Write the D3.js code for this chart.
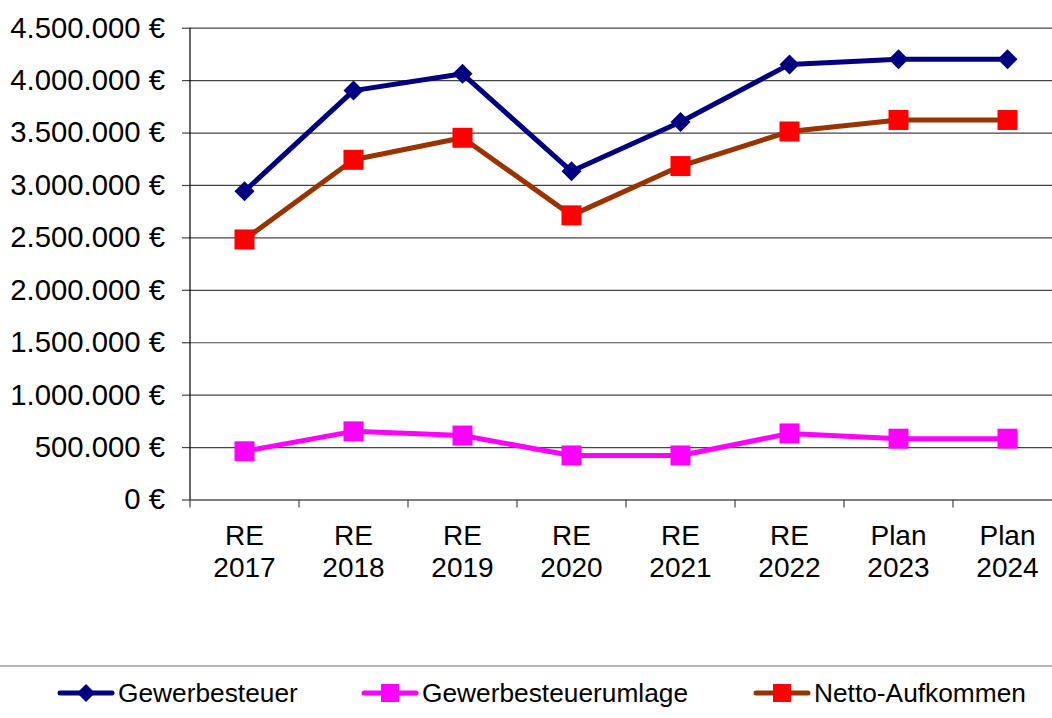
<!DOCTYPE html>
<html>
<head>
<meta charset="utf-8">
<script src="https://cdn.jsdelivr.net/npm/d3@7"></script>
<style>
  body { margin: 0; background: #fff; }
  svg { display: block; font-family: Arial, "Liberation Sans", sans-serif; }
</style>
</head>
<body>
<svg id="chart" width="1052" height="718"></svg>
<script>
// data
var categories = ["RE 2017", "RE 2018", "RE 2019", "RE 2020", "RE 2021", "RE 2022", "Plan 2023", "Plan 2024"];
var gewerbesteuer = [2940000, 3900000, 4060000, 3130000, 3600000, 4150000, 4200000, 4200000];
var umlage = [460000, 650000, 610000, 420000, 420000, 630000, 580000, 580000];
var netto = [2480000, 3240000, 3450000, 2710000, 3180000, 3510000, 3620000, 3620000];
var yTicks = [0, 500000, 1000000, 1500000, 2000000, 2500000, 3000000, 3500000, 4000000, 4500000];

var series = [
  {name: "Gewerbesteuer", values: gewerbesteuer, line: "#000080", marker: "#000080", shape: "diamond"},
  {name: "Gewerbesteuerumlage", values: umlage, line: "#ff00ff", marker: "#ff00ff", shape: "square"},
  {name: "Netto-Aufkommen", values: netto, line: "#993300", marker: "#ff0000", shape: "square"}
];

var de = d3.formatLocale({decimal: ",", thousands: ".", grouping: [3], currency: ["", " €"]});
var fmt = function(v) { return de.format(",.0f")(v) + " €"; };

var svg = d3.select("#chart");
var plotLeft = 190, plotRight = 1062, plotTop = 27.7, plotBottom = 499.5;

var x = d3.scaleBand().domain(categories).range([plotLeft, plotRight]);
var y = d3.scaleLinear().domain([0, 4500000]).range([plotBottom, plotTop]);

// gridlines + y labels
var yAxis = svg.append("g")
  .attr("transform", "translate(" + plotLeft + ",0)")
  .call(d3.axisLeft(y).tickValues(yTicks).tickSize(8).tickFormat(fmt));
yAxis.select(".domain").remove();
yAxis.selectAll(".tick line").attr("stroke", "#444").attr("stroke-width", 1.2);
yAxis.selectAll(".tick").append("line")
  .attr("x1", 0).attr("x2", plotRight - plotLeft)
  .attr("stroke", function(d) { return d === 0 ? "#000" : "#444"; })
  .attr("stroke-width", 1.2);
yAxis.selectAll(".tick text")
  .attr("x", -25)
  .attr("font-size", 29.3)
  .attr("font-family", "Arial, 'Liberation Sans', sans-serif")
  .attr("fill", "#000");

// y axis line
svg.append("line").attr("x1", plotLeft).attr("x2", plotLeft).attr("y1", plotTop).attr("y2", plotBottom)
  .attr("stroke", "#000").attr("stroke-width", 1.2);

// x ticks at band edges
var edges = categories.map(function(c) { return x(c); }).concat([plotRight]);
svg.selectAll(".xtick").data(edges).enter().append("line")
  .attr("class", "xtick")
  .attr("x1", function(d) { return d; }).attr("x2", function(d) { return d; })
  .attr("y1", plotBottom).attr("y2", plotBottom + 8)
  .attr("stroke", "#444").attr("stroke-width", 1.2);

// x labels, two lines
var xl = svg.selectAll(".xlab").data(categories).enter().append("text")
  .attr("class", "xlab")
  .attr("text-anchor", "middle")
  .attr("font-size", 28)
  .attr("fill", "#000");
xl.selectAll("tspan").data(function(d) { return d.split(" ").map(function(s) { return {s: s, c: d}; }); })
  .enter().append("tspan")
  .attr("x", function(d) { return x(d.c) + x.bandwidth() / 2; })
  .attr("y", function(d, i) { return 545 + i * 32; })
  .text(function(d) { return d.s; });

function marker(sel, shape, color, w, h) {
  if (shape === "diamond") {
    sel.append("path")
      .attr("d", "M0," + (-h) + "L" + w + ",0L0," + h + "L" + (-w) + ",0Z")
      .attr("fill", color);
  } else {
    sel.append("rect")
      .attr("x", -w).attr("y", -h).attr("width", 2 * w).attr("height", 2 * h)
      .attr("fill", color);
  }
}

var line = d3.line()
  .x(function(d, i) { return x(categories[i]) + x.bandwidth() / 2; })
  .y(function(d) { return y(d); });

series.forEach(function(s) {
  var g = svg.append("g");
  g.append("path")
    .attr("d", line(s.values))
    .attr("fill", "none")
    .attr("stroke", s.line)
    .attr("stroke-width", 5)
    .attr("stroke-linejoin", "round");
  g.selectAll(".m").data(s.values).enter().append("g")
    .attr("transform", function(d, i) {
      return "translate(" + (x(categories[i]) + x.bandwidth() / 2) + "," + y(d) + ")";
    })
    .each(function() { marker(d3.select(this), s.shape, s.marker, 10, 10); });
});

// legend
svg.append("line").attr("x1", 0).attr("x2", 1052).attr("y1", 666).attr("y2", 666)
  .attr("stroke", "#a0a0a0").attr("stroke-width", 1.5);

var legendX = [58, 362, 754];
series.forEach(function(s, i) {
  var g = svg.append("g").attr("transform", "translate(" + legendX[i] + ",693)");
  g.append("line").attr("x1", 2).attr("x2", 54).attr("y1", 0).attr("y2", 0)
    .attr("stroke", s.line).attr("stroke-width", 5).attr("stroke-linecap", "round");
  var m = g.append("g").attr("transform", "translate(28,0)");
  if (s.shape === "diamond") marker(m, s.shape, s.marker, 9, 9);
  else marker(m, s.shape, s.marker, 9, 9);
  g.append("text")
    .attr("x", 60)
    .attr("dy", "0.35em")
    .attr("font-size", 26.3)
    .attr("fill", "#000")
    .text(s.name);
});
</script>
</body>
</html>
